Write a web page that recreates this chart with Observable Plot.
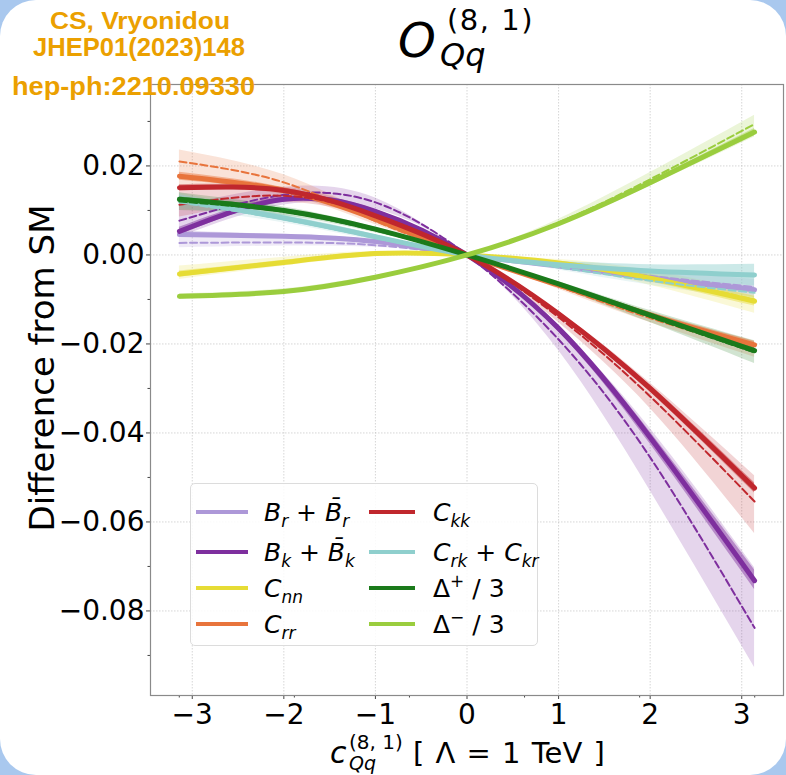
<!DOCTYPE html>
<html><head><meta charset="utf-8">
<script src="https://cdn.jsdelivr.net/npm/d3@7"></script>
<script src="https://cdn.jsdelivr.net/npm/@observablehq/plot@0.6"></script>
<style>
body{margin:0;background:#a9c8ee;}
#page{position:relative;width:786px;height:775px;background:#fff;border-radius:36px;overflow:hidden;font-family:"DejaVu Sans",sans-serif;}
#chart{position:absolute;left:0;top:0;}
#overlay{position:absolute;left:0;top:0;pointer-events:none;}
#legend{position:absolute;left:190px;top:483px;width:348px;height:163px;border:1px solid #dcdcdc;border-radius:5px;background:rgba(255,255,255,0.85);box-sizing:border-box;}
.sw{position:absolute;height:4px;margin-top:-2px;}
.lt{position:absolute;font-size:25px;line-height:1;transform:translateY(-50%);white-space:nowrap;font-family:"DejaVu Sans";}
.lt i{font-style:italic;}
.lt sub{font-size:17px;vertical-align:-6px;line-height:0;}
.lt sup{font-size:17px;vertical-align:10px;line-height:0;}
</style></head>
<body>
<div id="page">
  <div id="chart"></div>
  <svg id="overlay" width="786" height="775" font-family="DejaVu Sans">
    <g fill="#eba000" font-family="Liberation Sans" font-weight="bold">
      <text x="140" y="29" font-size="23" text-anchor="middle" textLength="180" lengthAdjust="spacingAndGlyphs">CS, Vryonidou</text>
      <text x="139" y="56" font-size="25" text-anchor="middle" textLength="212" lengthAdjust="spacingAndGlyphs">JHEP01(2023)148</text>
      <text x="12" y="95" font-size="25" textLength="243" lengthAdjust="spacingAndGlyphs">hep-ph:2210.09330</text>
    </g>
    <g fill="#000">
      <text><tspan x="398" y="57" font-size="48" font-style="italic">O</tspan><tspan x="447" y="30" font-size="29" letter-spacing="1.5">(8, 1)</tspan><tspan x="440" y="66" font-size="32" font-style="italic">Qq</tspan></text>
      <text transform="translate(54,368) rotate(-90)" text-anchor="middle" font-size="34">Difference from SM</text>
      <text><tspan x="330" y="763" font-size="30" font-style="italic">c</tspan><tspan x="349" y="749" font-size="20">(8, 1)</tspan><tspan x="349" y="770" font-size="19" font-style="italic">Qq</tspan><tspan x="413" y="763" font-size="29" word-spacing="2">[ Λ = 1 TeV ]</tspan></text>
    </g>
  </svg>
  <div id="legend"></div>
</div>
<script>
// ---- data ----
const X = [-3.14, -2, -1, 0, 1, 2, 3.14];

const Br_solid = [0.0046, 0.0042, 0.0030, 0, -0.0025, -0.0052, -0.0078];
const Br_dash  = [0.0027, 0.0028, 0.0022, 0, -0.0022, -0.0047, -0.0072];
const Br_sLo   = [0.0040, 0.0038, 0.0027, 0, -0.0028, -0.0057, -0.0085];
const Br_sHi   = [0.0052, 0.0046, 0.0033, 0, -0.0022, -0.0047, -0.0071];
const Br_dLo   = [0.0016, 0.0020, 0.0017, 0, -0.0030, -0.0062, -0.0095];
const Br_dHi   = [0.0055, 0.0045, 0.0032, 0, -0.0016, -0.0035, -0.0055];

const Bk_solid = [0.0053, 0.0125, 0.0098, 0, -0.0165, -0.0410, -0.0732];
const Bk_dash  = [0.0077, 0.0135, 0.0118, 0, -0.0190, -0.0455, -0.0838];
const Bk_sLo   = [0.0045, 0.0119, 0.0094, 0, -0.0172, -0.0425, -0.0752];
const Bk_sHi   = [0.0062, 0.0131, 0.0102, 0, -0.0158, -0.0398, -0.0708];
const Bk_dLo   = [0.0040, 0.0112, 0.0103, 0, -0.0215, -0.0530, -0.0927];
const Bk_dHi   = [0.0110, 0.0152, 0.0128, 0, -0.0165, -0.0390, -0.0703];

const Cnn_solid = [-0.0043, -0.0017, 0.0003, 0, -0.0018, -0.0052, -0.0104];
const Cnn_dash  = [-0.0040, -0.0015, 0.0003, 0, -0.0017, -0.0050, -0.0100];
const Cnn_sLo   = [-0.0050, -0.0022, 0.0000, 0, -0.0022, -0.0060, -0.0115];
const Cnn_sHi   = [-0.0036, -0.0012, 0.0006, 0, -0.0014, -0.0044, -0.0093];
const Cnn_dLo   = [-0.0055, -0.0025, -0.0003, 0, -0.0025, -0.0068, -0.0131];
const Cnn_dHi   = [-0.0025, -0.0005, 0.0008, 0, -0.0010, -0.0035, -0.0082];

const Crr_solid = [0.0177, 0.0145, 0.0080, 0, -0.0068, -0.0135, -0.0202];
const Crr_dash  = [0.0210, 0.0163, 0.0076, 0, -0.0071, -0.0142, -0.0213];
const Crr_sLo   = [0.0168, 0.0139, 0.0076, 0, -0.0072, -0.0141, -0.0210];
const Crr_sHi   = [0.0186, 0.0151, 0.0084, 0, -0.0064, -0.0129, -0.0194];
const Crr_dLo   = [0.0150, 0.0135, 0.0068, 0, -0.0077, -0.0152, -0.0230];
const Crr_dHi   = [0.0236, 0.0180, 0.0086, 0, -0.0064, -0.0128, -0.0195];

const Ckk_solid = [0.0151, 0.0145, 0.0088, 0, -0.0132, -0.0300, -0.0524];
const Ckk_dash  = [0.0113, 0.0133, 0.0090, 0, -0.0140, -0.0318, -0.0554];
const Ckk_sLo   = [0.0144, 0.0140, 0.0085, 0, -0.0136, -0.0308, -0.0535];
const Ckk_sHi   = [0.0158, 0.0150, 0.0091, 0, -0.0128, -0.0292, -0.0512];
const Ckk_dLo   = [0.0085, 0.0118, 0.0082, 0, -0.0152, -0.0345, -0.0626];
const Ckk_dHi   = [0.0150, 0.0152, 0.0097, 0, -0.0127, -0.0288, -0.0496];

const Crk_solid = [0.0125, 0.0083, 0.0041, 0, -0.0022, -0.0036, -0.0045];
const Crk_dash  = [0.0118, 0.0080, 0.0038, 0, -0.0028, -0.0058, -0.0085];
const Crk_sLo   = [0.0115, 0.0077, 0.0037, 0, -0.0030, -0.0052, -0.0070];
const Crk_sHi   = [0.0135, 0.0089, 0.0045, 0, -0.0015, -0.0022, -0.0021];
const Crk_dLo   = [0.0105, 0.0072, 0.0033, 0, -0.0034, -0.0068, -0.0100];
const Crk_dHi   = [0.0140, 0.0092, 0.0046, 0, -0.0018, -0.0036, -0.0050];

const Dp_solid = [0.0125, 0.0100, 0.0058, 0, -0.0065, -0.0135, -0.0215];
const Dp_dash  = [0.0120, 0.0097, 0.0055, 0, -0.0067, -0.0139, -0.0219];
const Dp_sLo   = [0.0120, 0.0096, 0.0055, 0, -0.0068, -0.0140, -0.0222];
const Dp_sHi   = [0.0130, 0.0104, 0.0061, 0, -0.0062, -0.0130, -0.0208];
const Dp_dLo   = [0.0100, 0.0088, 0.0050, 0, -0.0073, -0.0152, -0.0244];
const Dp_dHi   = [0.0140, 0.0108, 0.0062, 0, -0.0060, -0.0125, -0.0193];

const Dm_solid = [-0.0093, -0.0082, -0.0050, 0, 0.0070, 0.0162, 0.0276];
const Dm_dash  = [-0.0095, -0.0083, -0.0050, 0, 0.0073, 0.0170, 0.0294];
const Dm_sLo   = [-0.0097, -0.0085, -0.0052, 0, 0.0067, 0.0157, 0.0268];
const Dm_sHi   = [-0.0089, -0.0079, -0.0048, 0, 0.0073, 0.0167, 0.0284];
const Dm_dLo   = [-0.0100, -0.0088, -0.0054, 0, 0.0066, 0.0155, 0.0265];
const Dm_dHi   = [-0.0088, -0.0076, -0.0046, 0, 0.0080, 0.0185, 0.0314];

const seriesKeys = ["Br", "Bk", "Cnn", "Crr", "Ckk", "Crk", "Dp", "Dm"];
const seriesColors = ["#ad98d8", "#7e2f9e", "#e6dc35", "#e8743c", "#c0272d", "#8fcfcd", "#1b7a1b", "#9acd3e"];
const legendLabels = [
  "<i>B</i><sub><i>r</i></sub> + <i>B\u0304</i><sub><i>r</i></sub>",
  "<i>B</i><sub><i>k</i></sub> + <i>B\u0304</i><sub><i>k</i></sub>",
  "<i>C</i><sub><i>nn</i></sub>",
  "<i>C</i><sub><i>rr</i></sub>",
  "<i>C</i><sub><i>kk</i></sub>",
  "<i>C</i><sub><i>rk</i></sub> + <i>C</i><sub><i>kr</i></sub>",
  "\u0394<sup>+</sup> / 3",
  "\u0394<sup>\u2212</sup> / 3"
];
const xTicks = [-3, -2, -1, 0, 1, 2, 3];
const yTicks = [-0.08, -0.06, -0.04, -0.02, 0, 0.02];
const yMinorTicks = [-0.09, -0.07, -0.05, -0.03, -0.01, 0.01, 0.03];
const xMinorTicks = [-3.1416, -1.885, -0.6283, 0.6283, 1.885, 3.1416];

// ---- build table ----
const src = {
  Br: [Br_solid, Br_dash, Br_sLo, Br_sHi, Br_dLo, Br_dHi],
  Bk: [Bk_solid, Bk_dash, Bk_sLo, Bk_sHi, Bk_dLo, Bk_dHi],
  Cnn: [Cnn_solid, Cnn_dash, Cnn_sLo, Cnn_sHi, Cnn_dLo, Cnn_dHi],
  Crr: [Crr_solid, Crr_dash, Crr_sLo, Crr_sHi, Crr_dLo, Crr_dHi],
  Ckk: [Ckk_solid, Ckk_dash, Ckk_sLo, Ckk_sHi, Ckk_dLo, Ckk_dHi],
  Crk: [Crk_solid, Crk_dash, Crk_sLo, Crk_sHi, Crk_dLo, Crk_dHi],
  Dp: [Dp_solid, Dp_dash, Dp_sLo, Dp_sHi, Dp_dLo, Dp_dHi],
  Dm: [Dm_solid, Dm_dash, Dm_sLo, Dm_sHi, Dm_dLo, Dm_dHi]
};
const rowsOf = k => X.map((x, i) => ({
  key: k, x,
  s: src[k][0][i], d: src[k][1][i],
  sLo: src[k][2][i], sHi: src[k][3][i],
  dLo: src[k][4][i], dHi: src[k][5][i]
}));

const curve = "natural";
const marks = [
  Plot.gridX(xTicks, {stroke: "#bbb", strokeOpacity: 0.6, strokeDasharray: "1.5,1.5"}),
  Plot.gridY(yTicks, {stroke: "#bbb", strokeOpacity: 0.6, strokeDasharray: "1.5,1.5"})
];
seriesKeys.forEach((k, j) => {
  marks.push(Plot.areaY(rowsOf(k), {x: "x", y1: "dLo", y2: "dHi", fill: seriesColors[j], fillOpacity: 0.2, curve}));
});
seriesKeys.forEach((k, j) => {
  marks.push(Plot.areaY(rowsOf(k), {x: "x", y1: "sLo", y2: "sHi", fill: seriesColors[j], fillOpacity: 0.45, curve}));
});
seriesKeys.forEach((k, j) => {
  const rows = rowsOf(k);
  marks.push(Plot.lineY(rows, {x: "x", y: "s", stroke: seriesColors[j], strokeWidth: 5, curve}));
  marks.push(Plot.lineY(rows, {x: "x", y: "d", stroke: seriesColors[j], strokeWidth: 2, strokeDasharray: "7,3.5", curve}));
});
marks.push(
  Plot.axisX(xTicks, {tickSize: 4, tickPadding: 5, tickFormat: d3.format("d"), label: null, stroke: "#444"}),
  Plot.axisX(xMinorTicks, {tickSize: 2.5, tickFormat: () => "", label: null, stroke: "#444"}),
  Plot.axisY(yTicks, {tickSize: 4, tickPadding: 2, tickFormat: d3.format(".2f"), label: null, stroke: "#444"}),
  Plot.axisY(yMinorTicks, {tickSize: 2.5, tickFormat: () => "", label: null, stroke: "#444"}),
  Plot.frame({stroke: "#8a8a8a", strokeWidth: 1.2})
);

const chart = Plot.plot({
  width: 786, height: 775,
  marginLeft: 150, marginRight: 3, marginTop: 84, marginBottom: 80,
  x: {domain: [-3.456, 3.456]},
  y: {domain: [-0.0990, 0.0383]},
  style: {background: "transparent", fontFamily: "DejaVu Sans", fontSize: "28px", color: "#000"},
  marks
});
document.getElementById("chart").appendChild(chart);

// ---- legend ----
const leg = document.getElementById("legend");
const rowY = [28, 68, 104, 140];
seriesKeys.forEach((k, j) => {
  const col = j < 4 ? 0 : 1;
  const r = j % 4;
  const sw = document.createElement("div");
  sw.className = "sw";
  sw.style.left = (col ? 178 : 5) + "px";
  sw.style.width = (col ? 46 : 52) + "px";
  sw.style.top = rowY[r] + "px";
  sw.style.background = seriesColors[j];
  leg.appendChild(sw);
  const t = document.createElement("div");
  t.className = "lt";
  t.style.left = (col ? 242 : 73) + "px";
  t.style.top = rowY[r] + "px";
  t.innerHTML = legendLabels[j];
  leg.appendChild(t);
});
</script>
</body></html>
